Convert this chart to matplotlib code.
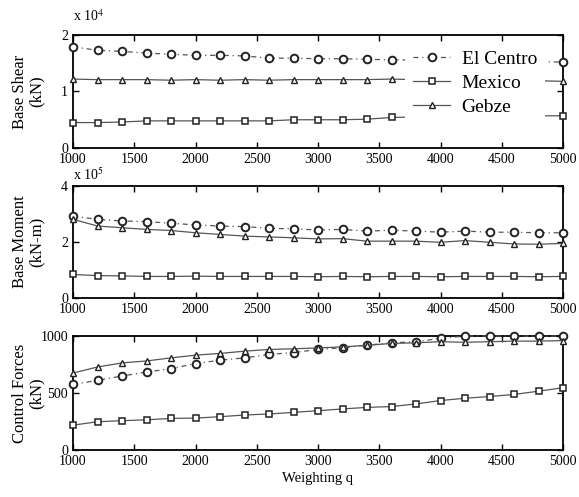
import matplotlib
matplotlib.use('Agg')
import matplotlib.pyplot as plt
import numpy as np

plt.rcParams['font.family'] = ['Liberation Serif', 'DejaVu Serif']
plt.rcParams['mathtext.fontset'] = 'stix'

# weighting q
q = [1000, 1200, 1400, 1600, 1800, 2000, 2200, 2400, 2600, 2800, 3000,
     3200, 3400, 3600, 3800, 4000, 4200, 4400, 4600, 4800, 5000]

# base shear (x 1e4 kN)
shear_centro = [1.79, 1.73, 1.71, 1.68, 1.66, 1.64, 1.64, 1.63, 1.59, 1.59, 1.58,
                1.58, 1.57, 1.56, 1.56, 1.55, 1.55, 1.54, 1.54, 1.53, 1.52]
shear_mexico = [0.45, 0.45, 0.46, 0.48, 0.48, 0.48, 0.48, 0.48, 0.48, 0.50, 0.50,
                0.50, 0.51, 0.54, 0.55, 0.55, 0.56, 0.56, 0.56, 0.57, 0.57]
shear_gebze = [1.22, 1.21, 1.21, 1.21, 1.20, 1.21, 1.20, 1.21, 1.20, 1.21, 1.21,
               1.21, 1.21, 1.22, 1.21, 1.21, 1.20, 1.20, 1.19, 1.19, 1.18]

# base moment (x 1e5 kN-m)
moment_centro = [2.92, 2.81, 2.75, 2.73, 2.67, 2.61, 2.57, 2.55, 2.49, 2.47, 2.43,
                 2.45, 2.39, 2.42, 2.39, 2.35, 2.39, 2.35, 2.35, 2.33, 2.33]
moment_mexico = [0.84, 0.80, 0.79, 0.77, 0.77, 0.78, 0.77, 0.77, 0.77, 0.77, 0.76,
                 0.77, 0.76, 0.77, 0.77, 0.76, 0.77, 0.77, 0.77, 0.76, 0.77]
moment_gebze = [2.81, 2.57, 2.51, 2.45, 2.41, 2.33, 2.27, 2.21, 2.18, 2.15, 2.11,
                2.12, 2.03, 2.03, 2.03, 1.99, 2.05, 1.99, 1.93, 1.92, 1.95]

# control forces (kN)
force_centro = [575, 611, 649, 684, 714, 758, 788, 808, 838, 855, 882,
                897, 920, 940, 950, 979, 1000, 1000, 1000, 998, 1000]
force_mexico = [218, 248, 257, 265, 277, 280, 292, 307, 316, 330, 345,
                360, 374, 381, 404, 434, 454, 469, 487, 516, 546]
force_gebze = [675, 728, 764, 781, 808, 832, 847, 867, 882, 888, 895,
               905, 918, 935, 940, 950, 945, 950, 955, 955, 960]

line_col = '#555555'
mk_col = '#222222'

def draw_panel(ax, centro, mexico, gebze):
    ax.plot(q, centro, linestyle=(0, (4, 3, 1, 3)), color=line_col, lw=0.9,
            marker='o', ms=5.5, mfc='white', mec=mk_col, mew=1.4,
            label='El Centro', clip_on=False, zorder=3)
    ax.plot(q, mexico, '-', color=line_col, lw=0.9,
            marker='s', ms=5, mfc='white', mec=mk_col, mew=1.1,
            label='Mexico', clip_on=False, zorder=3)
    ax.plot(q, gebze, '-', color=line_col, lw=0.9,
            marker='^', ms=5, mfc='white', mec=mk_col, mew=1.0,
            label='Gebze', clip_on=False, zorder=3)
    ax.set_xlim(1000, 5000)
    ax.set_xticks([1000, 1500, 2000, 2500, 3000, 3500, 4000, 4500, 5000])
    ax.tick_params(direction='in', top=True, right=True, length=4, width=1.0,
                   labelsize=10, pad=3.5)
    for s in ax.spines.values():
        s.set_linewidth(1.3)


fig = plt.figure(figsize=(5.79, 4.97), dpi=100)
left, width = 73 / 579, 490 / 579

ax1 = fig.add_axes([left, (497 - 148) / 497, width, 113 / 497])
ax2 = fig.add_axes([left, (497 - 298) / 497, width, 112 / 497])
ax3 = fig.add_axes([left, (497 - 450) / 497, width, 114 / 497])

draw_panel(ax1, shear_centro, shear_mexico, shear_gebze)
ax1.set_ylim(0, 2)
ax1.set_yticks([0, 1, 2])
ax1.text(0.0, 1.1, r'x 10$^{4}$', transform=ax1.transAxes, fontsize=10,
         ha='left', va='bottom')
ax1.set_ylabel('Base Shear\n(kN)', fontsize=12, linespacing=1.1)

leg = ax1.legend(loc='upper right', bbox_to_anchor=(0.963, 0.935), fontsize=14,
                 numpoints=1, handlelength=1.9, handletextpad=0.6,
                 labelspacing=0.33, borderaxespad=0, borderpad=0.4,
                 frameon=True, fancybox=False, framealpha=1,
                 facecolor='white', edgecolor='none')
leg.set_zorder(5)

draw_panel(ax2, moment_centro, moment_mexico, moment_gebze)
ax2.set_ylim(0, 4)
ax2.set_yticks([0, 2, 4])
ax2.text(0.0, 1.03, r'x 10$^{5}$', transform=ax2.transAxes, fontsize=10,
         ha='left', va='bottom')
ax2.set_ylabel('Base Moment\n(kN-m)', fontsize=12, linespacing=1.1)

draw_panel(ax3, force_centro, force_mexico, force_gebze)
ax3.set_ylim(0, 1000)
ax3.set_yticks([0, 500, 1000])
ax3.set_ylabel('Control Forces\n(kN)', fontsize=12, linespacing=1.1)
ax3.set_xlabel('Weighting q', fontsize=10.5, labelpad=3)

for ax in (ax1, ax2, ax3):
    ax.yaxis.set_label_coords(-0.057, 0.5)

fig.savefig('out.png', dpi=100)
